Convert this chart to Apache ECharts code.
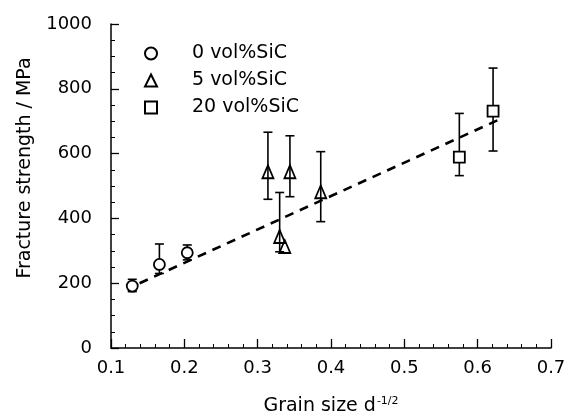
<!DOCTYPE html>
<html>
<head>
<meta charset="utf-8">
<script src="https://cdn.jsdelivr.net/npm/echarts@6/dist/echarts.min.js"></script>
<style>html,body{margin:0;padding:0;background:#fff}#c{width:576px;height:419px}</style>
</head>
<body>
<div id="c"></div>
<script>
// ---- data ----
const circleX = [0.129, 0.166, 0.204];
const circleY = [191, 258, 294];
const circleLow = [174, 230, 272];
const circleHigh = [212, 321, 318];

const triX = [0.314, 0.344, 0.330, 0.337, 0.386];
const triY = [544, 544, 344, 313, 482];
const triLow = [459, 467, 297, null, 390];
const triHigh = [666, 655, 480, null, 606];

const sqX = [0.575, 0.621];
const sqY = [589, 731];
const sqLow = [532, 608];
const sqHigh = [724, 864];

const fitX = [0.139, 0.635];
const fitY = [200, 711];

const seriesNames = ['0 vol%SiC', '5 vol%SiC', '20 vol%SiC'];
const xTicks = [0.1, 0.2, 0.3, 0.4, 0.5, 0.6, 0.7];
const yTicks = [0, 200, 400, 600, 800, 1000];

// ---- build ----
function pts(xs, ys) { return xs.map((x, i) => [x, ys[i]]); }
function errs(xs, lo, hi) {
  const out = [];
  xs.forEach((x, i) => { if (lo[i] != null && hi[i] != null) out.push([x, lo[i], hi[i]]); });
  return out;
}
const errData = [].concat(errs(circleX, circleLow, circleHigh), errs(triX, triLow, triHigh), errs(sqX, sqLow, sqHigh));

const FONT = 'DejaVu Sans';
const chart = echarts.init(document.getElementById('c'), null, {renderer: 'canvas'});
const markerStyle = {color: '#fff', borderColor: '#000', borderWidth: 1.8, opacity: 1};

chart.setOption({
  animation: false,
  backgroundColor: '#fff',
  grid: {left: 111, right: 25, top: 24, bottom: 71, containLabel: false, outerBoundsMode: 'none'},
  legend: {
    orient: 'vertical', left: 139, top: 39,
    itemWidth: 12, itemHeight: 12, itemGap: 8,
    data: seriesNames,
    textStyle: {fontFamily: FONT, fontSize: 19, color: '#000', padding: [0, 0, 0, 30]}
  },
  xAxis: {
    type: 'value', min: xTicks[0], max: xTicks[xTicks.length - 1], interval: 0.1,
    name: '{a|Grain size d}{s|-1/2}', nameLocation: 'middle', nameGap: 48,
    nameTextStyle: {rich: {
      a: {fontFamily: FONT, fontSize: 19, color: '#000'},
      s: {fontFamily: FONT, fontSize: 11, color: '#000', verticalAlign: 'top', padding: [0, 0, 10, 1]}
    }},
    axisLine: {lineStyle: {color: '#000', width: 1.5}},
    axisTick: {inside: true, length: 9, lineStyle: {color: '#000', width: 1.3}},
    minorTick: {show: true, splitNumber: 5, length: 4, lineStyle: {color: '#000', width: 1}},
    splitLine: {show: false},
    axisLabel: {fontFamily: FONT, fontSize: 18, color: '#000', margin: 11,
      formatter: v => v.toFixed(1)}
  },
  yAxis: {
    type: 'value', min: yTicks[0], max: yTicks[yTicks.length - 1], interval: 200,
    name: 'Fracture strength / MPa', nameLocation: 'middle', nameGap: 76,
    nameTextStyle: {fontFamily: FONT, fontSize: 19, color: '#000', padding: [0, 0, 0, 36]},
    axisLine: {show: true, lineStyle: {color: '#000', width: 1.5}},
    axisTick: {show: true, inside: true, length: 8, lineStyle: {color: '#000', width: 1.3}},
    minorTick: {show: true, splitNumber: 4, length: 4, lineStyle: {color: '#000', width: 1}},
    splitLine: {show: false},
    axisLabel: {fontFamily: FONT, fontSize: 18, color: '#000', margin: 19,
      formatter: v => String(v)}
  },
  series: [
    {
      type: 'line', data: pts(fitX, fitY), symbol: 'none', silent: true, z: 1,
      lineStyle: {color: '#000', width: 2.6, type: [9, 7]}
    },
    {
      type: 'custom', z: 2, silent: true, data: errData,
      renderItem: function (params, api) {
        const x = api.value(0);
        const lo = api.coord([x, api.value(1)]);
        const hi = api.coord([x, api.value(2)]);
        const cw = 4.5;
        const st = {stroke: '#000', lineWidth: 1.6};
        return {type: 'group', children: [
          {type: 'line', shape: {x1: lo[0], y1: lo[1], x2: hi[0], y2: hi[1]}, style: st},
          {type: 'line', shape: {x1: lo[0] - cw, y1: lo[1], x2: lo[0] + cw, y2: lo[1]}, style: st},
          {type: 'line', shape: {x1: hi[0] - cw, y1: hi[1], x2: hi[0] + cw, y2: hi[1]}, style: st}
        ]};
      }
    },
    {name: seriesNames[0], type: 'scatter', z: 3, symbol: 'circle', symbolSize: 11,
      itemStyle: markerStyle, data: pts(circleX, circleY)},
    {name: seriesNames[1], type: 'scatter', z: 3, symbol: 'triangle', symbolSize: [11, 13],
      itemStyle: {color: 'rgba(255,255,255,0)', borderColor: '#000', borderWidth: 1.8, opacity: 1}, data: pts(triX, triY)},
    {name: seriesNames[2], type: 'scatter', z: 3, symbol: 'rect', symbolSize: 11,
      itemStyle: markerStyle, data: pts(sqX, sqY)}
  ]
});
</script>
</body>
</html>
